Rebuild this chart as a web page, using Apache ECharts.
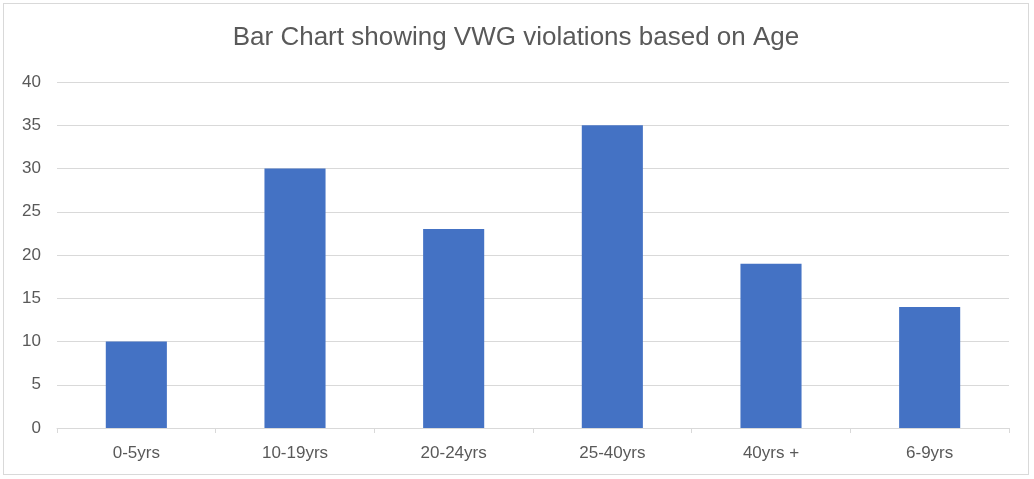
<!DOCTYPE html>
<html>
<head>
<meta charset="utf-8">
<script src="https://cdn.jsdelivr.net/npm/echarts@6/dist/echarts.min.js"></script>
<style>
html,body{margin:0;padding:0;background:#fff;}
#wrap{position:absolute;left:3px;top:3px;width:1026px;height:472px;border:1px solid #d9d9d9;box-sizing:border-box;}
#chart{width:100%;height:100%;}
</style>
</head>
<body>
<div id="wrap"><div id="chart"></div></div>
<script>
const titleText = 'Bar Chart showing VWG violations based on Age';
const categories = ['0-5yrs', '10-19yrs', '20-24yrs', '25-40yrs', '40yrs +', '6-9yrs'];
const values = [10, 30, 23, 35, 19, 14];
const yMin = 0, yMax = 40, yInterval = 5;

const chart = echarts.init(document.getElementById('chart'), null, {renderer: 'canvas'});
const font = '"Liberation Sans", Arial, sans-serif';
chart.setOption({
  animation: false,
  title: {
    text: titleText,
    left: 'center',
    top: 16,
    textStyle: {color: '#595959', fontSize: 26, fontWeight: 'normal', fontFamily: font}
  },
  grid: {left: 53, right: 19, top: 78, bottom: 46, containLabel: false},
  xAxis: {
    type: 'category',
    data: categories,
    axisLine: {lineStyle: {color: '#d9d9d9'}},
    axisTick: {show: true, length: 5, lineStyle: {color: '#d9d9d9'}, alignWithLabel: false},
    axisLabel: {color: '#595959', fontSize: 17, fontFamily: font, margin: 17}
  },
  yAxis: {
    type: 'value',
    min: yMin, max: yMax, interval: yInterval,
    axisLine: {show: false},
    axisTick: {show: false},
    splitLine: {lineStyle: {color: '#d9d9d9', width: 1}},
    axisLabel: {color: '#595959', fontSize: 17, fontFamily: font, margin: 16}
  },
  series: [{
    type: 'bar',
    data: values,
    barWidth: '38.5%',
    itemStyle: {color: '#4472c4'}
  }]
});
</script>
</body>
</html>
